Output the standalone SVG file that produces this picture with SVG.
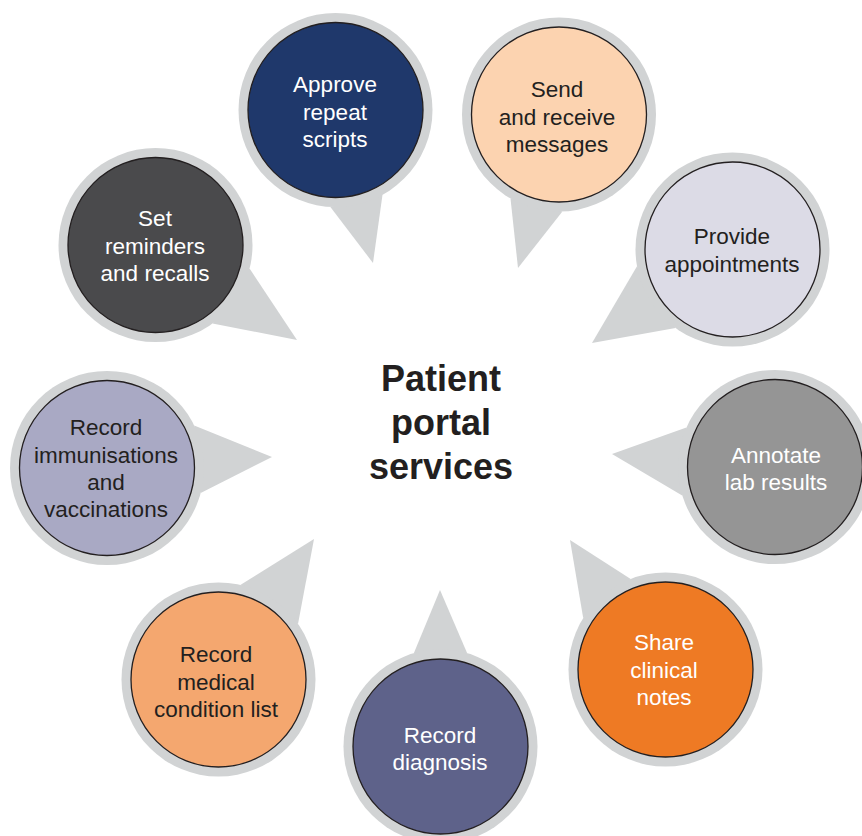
<svg xmlns="http://www.w3.org/2000/svg" width="862" height="836" viewBox="0 0 862 836">
<style>
.ring{fill:#d1d3d4}
.disc{stroke:#231f20;stroke-width:1.3}
.lbl{font-family:"Liberation Sans",Arial,sans-serif;font-size:22.5px;text-anchor:middle}
.lt{fill:#ffffff}
.dk{fill:#231f20}
.title{font-family:"Liberation Sans",Arial,sans-serif;font-size:36px;font-weight:bold;text-anchor:middle;fill:#231f20}
</style>
<rect width="862" height="836" fill="#ffffff"/>
<g id="connectors">
<polygon class="ring" points="330.4,206.9 382.5,194.8 373,263"/>
<polygon class="ring" points="510.5,198.5 562.4,211.4 518,268"/>
<polygon class="ring" points="637,266.3 675.5,328 592,343"/>
<polygon class="ring" points="686.4,427.5 682.2,495.4 612,454"/>
<polygon class="ring" points="583.2,618.1 630.7,579 570,540"/>
<polygon class="ring" points="413.8,653.3 467.2,653.3 440,590"/>
<polygon class="ring" points="240.3,585 298,623.9 314,539"/>
<polygon class="ring" points="194.2,425.5 200.7,493.1 272,457"/>
<polygon class="ring" points="212.5,323.5 249.6,268.5 297,340"/>
</g>
<g id="approve">
<circle class="ring" cx="335.5" cy="110" r="97"/>
<circle class="disc" cx="335.5" cy="110" r="87.5" fill="#1f386b"/>
<text class="lbl lt" x="335" y="92">Approve</text>
<text class="lbl lt" x="335" y="119.5">repeat</text>
<text class="lbl lt" x="335" y="147">scripts</text>
</g>
<g id="send">
<circle class="ring" cx="559" cy="114.5" r="97"/>
<circle class="disc" cx="559" cy="114.5" r="87.5" fill="#fcd3b0"/>
<text class="lbl dk" x="557" y="97">Send</text>
<text class="lbl dk" x="557" y="124.5">and receive</text>
<text class="lbl dk" x="557" y="152">messages</text>
</g>
<g id="provide">
<circle class="ring" cx="732.5" cy="249.5" r="97"/>
<circle class="disc" cx="732.5" cy="249.5" r="87.5" fill="#dcdbe6"/>
<text class="lbl dk" x="732" y="244">Provide</text>
<text class="lbl dk" x="732" y="272">appointments</text>
</g>
<g id="annotate">
<circle class="ring" cx="775" cy="467" r="97"/>
<circle class="disc" cx="775" cy="467" r="87.5" fill="#959595"/>
<text class="lbl lt" x="776" y="463">Annotate</text>
<text class="lbl lt" x="776" y="490">lab results</text>
</g>
<g id="share">
<circle class="ring" cx="665.5" cy="669.5" r="97"/>
<circle class="disc" cx="665.5" cy="669.5" r="87.5" fill="#ee7a24"/>
<text class="lbl lt" x="664" y="650">Share</text>
<text class="lbl lt" x="664" y="677.5">clinical</text>
<text class="lbl lt" x="664" y="705">notes</text>
</g>
<g id="diagnosis">
<circle class="ring" cx="440.5" cy="746.5" r="97"/>
<circle class="disc" cx="440.5" cy="746.5" r="87.5" fill="#5e628a"/>
<text class="lbl lt" x="440" y="743">Record</text>
<text class="lbl lt" x="440" y="770">diagnosis</text>
</g>
<g id="medical">
<circle class="ring" cx="218.5" cy="679.5" r="97"/>
<circle class="disc" cx="218.5" cy="679.5" r="87.5" fill="#f4a76f"/>
<text class="lbl dk" x="216" y="662">Record</text>
<text class="lbl dk" x="216" y="690">medical</text>
<text class="lbl dk" x="216" y="717">condition list</text>
</g>
<g id="immunisations">
<circle class="ring" cx="107" cy="468" r="97"/>
<circle class="disc" cx="107" cy="468" r="87.5" fill="#a9a9c4"/>
<text class="lbl dk" x="106" y="435">Record</text>
<text class="lbl dk" x="106" y="463">immunisations</text>
<text class="lbl dk" x="106" y="490">and</text>
<text class="lbl dk" x="106" y="517">vaccinations</text>
</g>
<g id="reminders">
<circle class="ring" cx="155.5" cy="245" r="97"/>
<circle class="disc" cx="155.5" cy="245" r="87.5" fill="#4a4a4c"/>
<text class="lbl lt" x="155" y="226">Set</text>
<text class="lbl lt" x="155" y="254">reminders</text>
<text class="lbl lt" x="155" y="281">and recalls</text>
</g>
<g id="title">
<text class="title" x="441" y="391">Patient</text>
<text class="title" x="441" y="435">portal</text>
<text class="title" x="441" y="479">services</text>
</g>
</svg>
